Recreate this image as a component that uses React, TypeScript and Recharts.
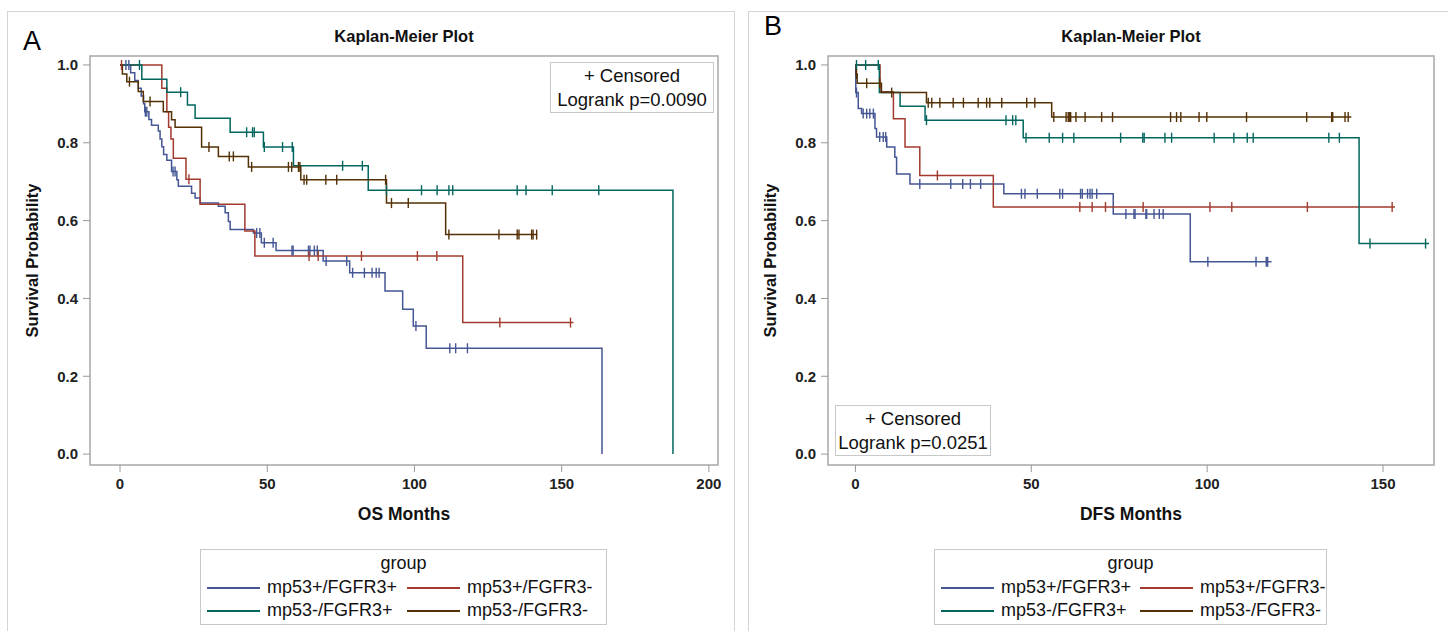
import React from 'react';
import { ComposedChart, Line, Scatter, XAxis, YAxis, ReferenceArea, Label } from 'recharts';

const BLUE = '#445694';
const RED = '#A23A2E';
const GREEN = '#01665E';
const BROWN = '#543005';

const groupNames = ['mp53+/FGFR3+', 'mp53+/FGFR3-', 'mp53-/FGFR3+', 'mp53-/FGFR3-'];
const groupColors = [BLUE, RED, GREEN, BROWN];
const yTicks = [0, 0.2, 0.4, 0.6, 0.8, 1.0];
const osTicks = [0, 50, 100, 150, 200];
const dfsTicks = [0, 50, 100, 150];

// ---- OS (panel A): event times, survival after each event, last follow-up, censored times
const osBlueT = [0, 3.6, 5, 6.2, 7.2, 8, 8.4, 9.8, 10.7, 13, 13.6, 14.2, 14.8, 15.9, 17.5, 19.3, 19.8, 24.3, 25.5, 27.2, 33.4, 35.7, 36.8, 37.4, 45.3, 48, 53, 69, 78, 90, 96, 99.6, 104, 163.7];
const osBlueS = [1, 0.98, 0.96, 0.94, 0.92, 0.9, 0.88, 0.86, 0.845, 0.83, 0.81, 0.79, 0.77, 0.755, 0.726, 0.705, 0.688, 0.67, 0.658, 0.645, 0.637, 0.62, 0.598, 0.577, 0.568, 0.543, 0.523, 0.496, 0.466, 0.419, 0.372, 0.329, 0.272, 0];
const osBlueEnd = 163.7;
const osBlueCens = [2, 3, 8.6, 9.1, 18, 18.7, 46.4, 47.5, 49, 52, 58.4, 58.8, 64, 64.5, 66, 67, 70, 77, 79, 83, 85.6, 87, 88, 100.5, 112, 114, 118];

const osRedT = [0, 14.2, 15.9, 16.5, 17.3, 18.1, 22.4, 27.2, 42.4, 45.8, 116.4];
const osRedS = [1, 0.94, 0.88, 0.84, 0.81, 0.76, 0.706, 0.642, 0.573, 0.509, 0.338];
const osRedEnd = 154;
const osRedCens = [0.5, 23.4, 64.2, 67.3, 82, 101, 107.6, 129, 153];

const osGreenT = [0, 7.4, 15.9, 22.9, 25.5, 37.4, 48.7, 58.9, 84.3, 187.8];
const osGreenS = [1, 0.963, 0.93, 0.897, 0.863, 0.827, 0.789, 0.741, 0.678, 0];
const osGreenEnd = 187.8;
const osGreenCens = [6.6, 20.6, 43, 45, 45.6, 49, 55.2, 58.5, 75.6, 82.3, 90.5, 102.4, 107.7, 111.7, 113, 134.9, 137.9, 146.8, 162.6];

const osBrownT = [0, 0.8, 2.3, 6.2, 7.9, 14.7, 17.5, 18.7, 27.7, 33.4, 43.6, 61.4, 90.5, 110.6];
const osBrownS = [1, 0.977, 0.957, 0.932, 0.906, 0.88, 0.859, 0.84, 0.789, 0.765, 0.738, 0.705, 0.645, 0.564];
const osBrownEnd = 141.7;
const osBrownCens = [3.2, 10.2, 30.2, 37.1, 38.5, 44.7, 57.2, 58.3, 60.6, 61.1, 62.5, 63.4, 69.9, 73.6, 90.2, 92.2, 97.9, 111.7, 128.7, 134.9, 135.5, 139.8, 140.3, 141.5];

// ---- DFS (panel B)
const dfsBlueT = [0, 0.1, 0.8, 1.75, 5.55, 6, 8.9, 11.2, 11.7, 15.5, 42.2, 73.3, 95.2];
const dfsBlueS = [1, 0.929, 0.888, 0.875, 0.837, 0.815, 0.789, 0.763, 0.72, 0.694, 0.669, 0.617, 0.494];
const dfsBlueEnd = 118.3;
const dfsBlueCens = [0.3, 2.2, 3.2, 4.1, 5.1, 6.9, 7.9, 8.6, 18.3, 27.1, 30.5, 32.7, 35.6, 47.2, 48.2, 51.7, 58.1, 58.9, 64, 64.5, 66, 66.7, 67.3, 68.6, 76.9, 79.2, 79.5, 82.6, 82.8, 84.9, 86.4, 87.5, 100.2, 113.9, 116.8, 117.2];

const dfsRedT = [0, 7, 10.8, 14.1, 18.3, 39.2];
const dfsRedS = [1, 0.931, 0.862, 0.789, 0.716, 0.635];
const dfsRedEnd = 153.4;
const dfsRedCens = [23.3, 63.8, 67.3, 71.1, 81.8, 100.8, 107, 128.5, 152.6];

const dfsGreenT = [0, 6.8, 12.7, 19.8, 47.7, 143.2];
const dfsGreenS = [1, 0.929, 0.894, 0.858, 0.813, 0.541];
const dfsGreenEnd = 163.1;
const dfsGreenCens = [0.3, 2.9, 6.5, 20.2, 42.8, 44.7, 45.6, 48.5, 55.1, 58.9, 62.1, 75.4, 81.7, 82.1, 88, 89.9, 102, 107.6, 111.4, 113.1, 134.6, 137.6, 146.3, 162.1];

const dfsBrownT = [0, 0.2, 0.5, 7.4, 20.2, 55.8];
const dfsBrownS = [1, 0.977, 0.953, 0.929, 0.903, 0.866];
const dfsBrownEnd = 141;
const dfsBrownCens = [0.3, 3.2, 6.9, 10.3, 20.7, 21.7, 24, 27.8, 30.7, 34.9, 37.3, 38.2, 41.6, 48.7, 51, 56.4, 59.9, 60.5, 60.8, 61.2, 62.7, 65.3, 70, 73.1, 89.6, 91.3, 92.5, 97.7, 99.9, 111.2, 128.3, 135.4, 135.7, 139.2, 140.1];

type Group = { t: number[]; s: number[]; end: number; cens: number[] };

const osGroups: Group[] = [
  { t: osBlueT, s: osBlueS, end: osBlueEnd, cens: osBlueCens },
  { t: osRedT, s: osRedS, end: osRedEnd, cens: osRedCens },
  { t: osGreenT, s: osGreenS, end: osGreenEnd, cens: osGreenCens },
  { t: osBrownT, s: osBrownS, end: osBrownEnd, cens: osBrownCens },
];
const dfsGroups: Group[] = [
  { t: dfsBlueT, s: dfsBlueS, end: dfsBlueEnd, cens: dfsBlueCens },
  { t: dfsRedT, s: dfsRedS, end: dfsRedEnd, cens: dfsRedCens },
  { t: dfsGreenT, s: dfsGreenS, end: dfsGreenEnd, cens: dfsGreenCens },
  { t: dfsBrownT, s: dfsBrownS, end: dfsBrownEnd, cens: dfsBrownCens },
];

function stepAt(g: Group, x: number) {
  let v = g.s[0];
  for (let i = 0; i < g.t.length; i++) if (g.t[i] <= x) v = g.s[i];
  return v;
}

function curve(g: Group) {
  const pts = g.t.map((t, i) => ({ t, s: g.s[i] }));
  if (g.end > g.t[g.t.length - 1]) pts.push({ t: g.end, s: g.s[g.s.length - 1] });
  return pts;
}

function censored(g: Group) {
  return g.cens.map((t) => ({ t, s: stepAt(g, t) }));
}

const FONT = '"Liberation Sans", Arial, sans-serif';
const tickStyle = { fontSize: 15, fontWeight: 'bold', fill: '#222', fontFamily: FONT };

const censorMark = (color: string) => (p: any) => (
  <line x1={p.cx} x2={p.cx} y1={p.cy - 5} y2={p.cy + 5} stroke={color} strokeWidth={1.4} />
);

interface PanelProps {
  left: number;
  width: number;
  yWidth: number;
  right: number;
  xDomain: [number, number];
  xTicks: number[];
  groups: Group[];
  xLabel: string;
  yLabelOffset: number;
}

function KMChart({ left, width, yWidth, right, xDomain, xTicks, groups, xLabel, yLabelOffset }: PanelProps) {
  const yDomain: [number, number] = [-0.028, 1.023];
  return (
    <div style={{ position: 'absolute', left, top: 0 }}>
      <ComposedChart width={width} height={631} margin={{ top: 56, right, bottom: 136, left: 0 }}>
        <XAxis
          type="number"
          dataKey="t"
          domain={xDomain}
          ticks={xTicks}
          interval={0}
          allowDataOverflow
          axisLine={false}
          tickSize={7}
          tickMargin={6}
          height={30}
          stroke="#999"
          tick={tickStyle}
        >
          <Label value={xLabel} position="bottom" offset={13} style={{ fontSize: 17.5, fontWeight: 'bold', fill: '#111', fontFamily: FONT }} />
        </XAxis>
        <YAxis
          type="number"
          dataKey="s"
          domain={yDomain}
          ticks={yTicks}
          interval={0}
          allowDataOverflow
          axisLine={false}
          tickSize={7}
          tickMargin={5}
          width={yWidth}
          stroke="#999"
          tick={tickStyle}
          tickFormatter={(v: number) => v.toFixed(1)}
        >
          <Label
            value="Survival Probability"
            angle={-90}
            position="insideLeft"
            offset={yLabelOffset}
            style={{ textAnchor: 'middle', fontSize: 16.5, fontWeight: 'bold', fill: '#111', fontFamily: FONT }}
          />
        </YAxis>
        <ReferenceArea x1={xDomain[0]} x2={xDomain[1]} y1={yDomain[0]} y2={yDomain[1]} fill="#fff" fillOpacity={0} stroke="#a8a8a8" strokeWidth={1.5} />
        {groups.map((g, i) => (
          <Line
            key={'l' + i}
            data={curve(g)}
            dataKey="s"
            type="stepAfter"
            stroke={groupColors[i]}
            strokeWidth={1.5}
            dot={false}
            activeDot={false}
            isAnimationActive={false}
          />
        ))}
        {groups.map((g, i) => (
          <Scatter
            key={'c' + i}
            data={censored(g)}
            dataKey="s"
            shape={censorMark(groupColors[i])}
            isAnimationActive={false}
          />
        ))}
      </ComposedChart>
    </div>
  );
}

const boxText: React.CSSProperties = { fontSize: 18.5, lineHeight: '24px', color: '#111', textAlign: 'center', fontFamily: FONT };

function CensorBox({ left, top, width, p }: { left: number; top: number; width: number; p: string }) {
  return (
    <div style={{ position: 'absolute', left, top, width, height: 51, border: '1px solid #c8c8c8', background: '#fff', ...boxText, paddingTop: 1, boxSizing: 'border-box', whiteSpace: 'nowrap' }}>
      <div>+ Censored</div>
      <div>Logrank p={p}</div>
    </div>
  );
}

function GroupLegend({ left, width, col2 }: { left: number; width: number; col2: number }) {
  const entry = (i: number, x: number, y: number) => (
    <div key={i} style={{ position: 'absolute', left: x, top: y, height: 25, display: 'flex', alignItems: 'center', whiteSpace: 'nowrap' }}>
      <div style={{ width: 53, height: 2, background: groupColors[i], marginRight: 7 }} />
      <span style={{ fontSize: 18, color: '#111' }}>{groupNames[i]}</span>
    </div>
  );
  return (
    <div style={{ position: 'absolute', left, top: 549, width, height: 76, border: '1px solid #c8c8c8', boxSizing: 'border-box', fontFamily: FONT }}>
      <div style={{ position: 'absolute', left: 0, right: 0, top: 3, textAlign: 'center', fontSize: 18, color: '#111' }}>group</div>
      {entry(0, 6, 25)}
      {entry(1, col2, 25)}
      {entry(2, 6, 48)}
      {entry(3, col2, 48)}
    </div>
  );
}

export default function App() {
  return (
    <div style={{ position: 'absolute', left: 0, top: 0, width: 1448, height: 631, background: '#fff', fontFamily: FONT, overflow: 'hidden' }}>
      <div style={{ position: 'absolute', left: 7, top: 11, width: 726, height: 640, border: '1px solid #d4d4d4' }} />
      <div style={{ position: 'absolute', left: 748, top: 11, width: 720, height: 640, border: '1px solid #d4d4d4' }} />

      <div style={{ position: 'absolute', left: 23, top: 28, fontSize: 27, lineHeight: '27px', color: '#000' }}>A</div>
      <div style={{ position: 'absolute', left: 764, top: 13, fontSize: 27, lineHeight: '27px', color: '#000' }}>B</div>

      <div style={{ position: 'absolute', left: 90, width: 628, top: 27, textAlign: 'center', fontSize: 16.5, fontWeight: 'bold', color: '#111' }}>Kaplan-Meier Plot</div>
      <div style={{ position: 'absolute', left: 828, width: 606, top: 27, textAlign: 'center', fontSize: 16.5, fontWeight: 'bold', color: '#111' }}>Kaplan-Meier Plot</div>

      <KMChart left={0} width={740} yWidth={90} right={22} xDomain={[-10.2, 203.1]} xTicks={osTicks} groups={osGroups} xLabel="OS Months" yLabelOffset={32} />
      <KMChart left={740} width={708} yWidth={88} right={14} xDomain={[-7.8, 164.5]} xTicks={dfsTicks} groups={dfsGroups} xLabel="DFS Months" yLabelOffset={30} />

      <CensorBox left={550} top={62} width={164} p="0.0090" />
      <CensorBox left={835} top={405} width={156} p="0.0251" />

      <GroupLegend left={200} width={407} col2={206} />
      <GroupLegend left={934} width={393} col2={205} />
    </div>
  );
}
